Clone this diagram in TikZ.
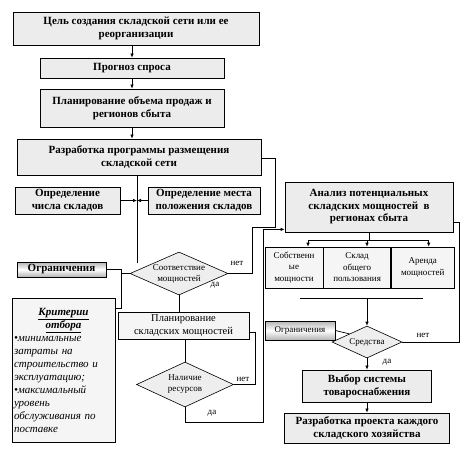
\documentclass[tikz,border=0pt]{standalone}
\usepackage{fontspec}
\setmainfont{Liberation Serif}
\usepackage{tikz}
\usetikzlibrary{arrows.meta,positioning,shapes.geometric,calc}

\begin{document}
\begin{tikzpicture}[x=1pt, y=-1pt,
    % ---------- estilos ----------
    mbox/.style={draw, line width=0.8pt, fill=gray!15, align=center,
      font=\fontsize{11}{12.5}\selectfont\bfseries, inner sep=1pt},
    lbox/.style={draw, line width=0.6pt, fill=gray!8, align=center,
      font=\fontsize{10.5}{12.5}\selectfont, inner sep=1pt},
    kbox/.style={draw, line width=0.6pt, fill=gray!8, align=center,
      font=\fontsize{9}{11.5}\selectfont, inner sep=1pt, minimum height=41},
    dmd/.style={diamond, draw, line width=0.6pt, fill=gray!13, align=center,
      font=\fontsize{9}{11}\selectfont, inner sep=0pt, aspect=2.2},
    limbox/.style={draw, line width=0.6pt, top color=gray!60, bottom color=gray!60,
      middle color=white, align=center, inner sep=1pt},
    critbox/.style={draw, line width=0.6pt, fill=gray!8, align=left,
      font=\fontsize{11}{13}\selectfont\itshape, inner sep=2pt},
    lbl/.style={font=\fontsize{9}{10}\selectfont},
    arr/.style={-{Latex[length=4pt,width=3.5pt]}, line width=0.7pt},
    ln/.style={line width=0.7pt}
]

\useasboundingbox[fill=white] (0,0) rectangle (472,464);

\def\xJ{137}
\def\xR{459}

% ====== Columna principal ======
\node[mbox, minimum width=246, minimum height=33] (goal) at (136,28.5)
  {Цель создания складской сети или ее\\реорганизации};
\node[mbox, minimum width=184, minimum height=20] (fcst) at (132,68)
  {Прогноз спроса};
\node[mbox, minimum width=184, minimum height=38] (sales) at (132,108)
  {Планирование объема продаж и\\регионов сбыта};
\node[mbox, minimum width=244, minimum height=36] (prog) at (139,157)
  {Разработка программы размещения\\складской сети};

\draw[arr] (goal.south -| fcst) -- (fcst.north);
\draw[arr] (fcst.south) -- (sales.north);
\draw[arr] (sales.south) -- (sales.south |- prog.north);

% ====== Numero y ubicacion ======
\node[mbox, minimum width=105, minimum height=27] (num) at (67.5,200.5)
  {Определение\\числа складов};
\node[mbox, minimum width=112, minimum height=27] (loc) at (204,200.5)
  {Определение места\\положения складов};

% ====== Rombo de capacidades ======
\node[dmd, minimum width=98, minimum height=43] (fit) at (179,273.5)
  {Соответствие\\мощностей};

\coordinate (jn) at (\xJ,200.5);
\draw[ln] (prog.south -| jn) -- (fit.north west -| jn);
\draw[arr] (num.east) -- (num.east -| jn);
\draw[arr] (loc.west) -- (loc.west -| jn);

% ====== Restricciones y criterios ======
\node[limbox, minimum width=89, minimum height=15,
      font=\fontsize{11}{12}\selectfont\bfseries] (lim1) at (61.5,269.5) {Ограничения};
\node[critbox, text width=99, minimum height=144] (crit) at (63.5,370) {%
  \makebox[99pt]{\bfseries\underline{Критерии}}\\
  \makebox[99pt]{\bfseries\underline{отбора}}\\
  •минимальные\\
  затраты на\\
  строительство и\\
  эксплуатацию;\\
  •максимальный\\
  уровень\\
  обслуживания по\\
  поставке};

\coordinate (bus) at (121,308);
\draw[ln] (lim1.east) -| (bus) -- (bus -| crit.east);
\draw[ln] (fit.west) -- (fit.west -| bus);

% ====== Planificacion y recursos ======
\node[lbox, minimum width=131, minimum height=27] (pcap) at (183.5,325.5)
  {Планирование\\складских мощностей};
\node[dmd, minimum width=97, minimum height=45] (res) at (185,384.5)
  {Наличие\\ресурсов};

\draw[ln] (fit.south) -- (fit.south |- pcap.north);
\draw[ln] (pcap.south -| res) -- (res.north);
\draw[ln] (res.east) -| (255,332.5) -- ([yshift=-7pt]pcap.east);
\node[lbl] at (243,379) {нет};

\coordinate (loopA) at (252,227);
\coordinate (loopB) at (275,158);
\draw[ln] (fit.east) -| (loopA) -| (loopB) -- (loopB -| prog.east);
\node[lbl] at (237,263) {нет};
\node[lbl] at (215,285) {да};

% ====== Analisis (derecha) ======
\node[mbox, minimum width=168, minimum height=50] (ana) at (369,207)
  {Анализ потенциальных\\складских мощностей\ \ в\\регионах сбыта};

\node[kbox, minimum width=58] (own) at (294,267.5) {Собственн\\ые\\мощности};
\node[kbox, minimum width=67, right=0pt of own] (pub) {Склад\\общего\\пользования};
\node[kbox, minimum width=63, right=0pt of pub] (rent) {Аренда\\мощностей};

\coordinate (fork) at ($(ana.south)+(-2,8)$);
\draw[ln] (ana.south) -- (ana.south |- fork);
\draw[arr] (fork) -- (fork |- pub.north);
\draw[arr] (fork) -| ([xshift=14pt]own.north);
\draw[arr] (fork) -| ([xshift=6pt]rent.north);

\coordinate (rail) at (263,422);
\draw[arr] (res.south) |- (rail) |- ([yshift=3pt]ana.south west);
\node[lbl] at (212,413) {да};

% ====== Medios ======
\node[dmd, minimum width=70, minimum height=32] (means) at (367,342) {Средства};
\node[limbox, minimum width=70, minimum height=19,
      font=\fontsize{9}{10}\selectfont] (lim2) at (300,330.5) {Ограничения};

\coordinate (mrg) at (367,298);
\draw[ln] ($(own.south)+(6,10)$) -- ($(rent.south)+(0.5,10)$);
\draw[arr] (mrg) -- (means.north);
\draw[ln] (lim2.east) -- (means.north west);

\draw[ln] (means.east) -| (\xR,222) -- ([yshift=-15pt]ana.east);
\node[lbl] at (423,335) {нет};
\node[lbl] at (387,362) {да};

% ====== Seleccion y proyecto ======
\node[mbox, minimum width=129, minimum height=32] (sel) at (367,386)
  {Выбор системы\\товароснабжения};
\node[mbox, minimum width=165, minimum height=30] (proj) at (367,428)
  {Разработка проекта каждого\\складского хозяйства};

\draw[arr] (means.south) -- (sel.north);
\draw[arr] (sel.south) -- (proj.north);

\end{tikzpicture}
\end{document}
